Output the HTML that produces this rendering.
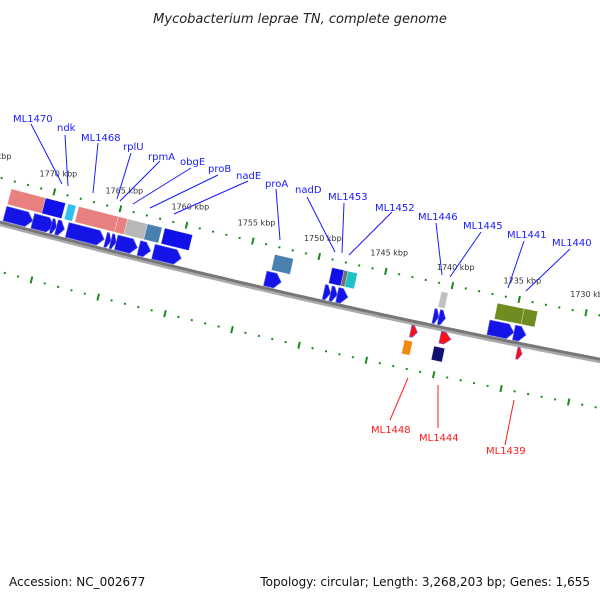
<!DOCTYPE html>
<html><head><meta charset="utf-8"><style>
body{margin:0;background:#fff}
svg{display:block}
text{font-family:"DejaVu Sans","Liberation Sans",sans-serif}
</style></head><body>
<svg id="map" width="600" height="600" viewBox="0 0 600 600">
<text x="300" y="23" text-anchor="middle" font-size="13" font-style="italic" fill="#222">Mycobacterium leprae TN, complete genome</text>
<text x="9" y="586" font-size="12" fill="#111">Accession: NC_002677</text>
<text x="590" y="586" font-size="12" fill="#111" text-anchor="end">Topology: circular; Length: 3,268,203 bp; Genes: 1,655</text>
<g id="layer"></g>
</svg>
<script>
// genomic data (kbp)
const majorTicks = [1775, 1770, 1765, 1760, 1755, 1750, 1745, 1740, 1735, 1730];
const minorStart = 1778, minorEnd = 1726;
const fwdArrowStart = [1773.1, 1771.0, 1769.6, 1769.2, 1768.4, 1765.5, 1765.1, 1764.7, 1763.0, 1761.9, 1753.5, 1749.1, 1748.6, 1748.1, 1740.9, 1740.5, 1736.8, 1734.9];
const fwdArrowEnd   = [1771.0, 1769.4, 1769.2, 1768.6, 1765.6, 1765.1, 1764.7, 1763.1, 1762.1, 1759.8, 1752.3, 1748.6, 1748.1, 1747.3, 1740.5, 1740.0, 1734.9, 1734.0];
const fwdBlockStart = [1773.1, 1770.5, 1768.8, 1768.0, 1765.0, 1764.3, 1762.8, 1761.5, 1753.2, 1748.9, 1748.0, 1747.7, 1740.7, 1736.5, 1734.5];
const fwdBlockEnd   = [1770.5, 1769.0, 1768.2, 1765.0, 1764.3, 1762.8, 1761.7, 1759.4, 1751.8, 1748.0, 1747.7, 1747.0, 1740.2, 1734.5, 1733.5];
const fwdBlockColor = ["#e88080","#1010e8","#30c0f0","#e88080","#e88080","#b8b8b8","#4a80b0","#1010e8","#4a80b0","#1010e8","#707070","#20c0c8","#c0c0c0","#6e8c20","#6e8c20"];
const revArrowStart = [1742.3, 1740.1, 1734.4];
const revArrowEnd   = [1741.8, 1739.3, 1734.0];
const revBlockStart = [1742.6, 1740.4];
const revBlockEnd   = [1742.0, 1739.6];
const revBlockColor = ["#f08a10", "#101070"];
const labelNames = ["ML1470","ndk","ML1468","rplU","rpmA","obgE","proB","nadE","proA","nadD","ML1453","ML1452","ML1446","ML1445","ML1441","ML1440"];

const CX = 2259, CY = -8283, DEG = 0.0892, PMID = 1750.7, PHIMID = 12.86;
const R_BB = 8800, R_OUT = 8757, R_IN = 8848;
function pt(p, r){
  const a = (PHIMID + (p - PMID) * DEG) * Math.PI / 180;
  return [CX - r * Math.sin(a), CY + r * Math.cos(a)];
}
const NS = "http://www.w3.org/2000/svg";
const layer = document.getElementById("layer");
function mk(tag, attrs){
  const e = document.createElementNS(NS, tag);
  for (const k in attrs) e.setAttribute(k, attrs[k]);
  layer.appendChild(e);
  return e;
}
function poly(list){ return list.map(q => q[0].toFixed(1) + "," + q[1].toFixed(1)).join(" "); }

// backbone
let d = "";
for (let p = minorStart; p >= minorEnd; p -= 0.5){ const q = pt(p, R_BB); d += (d ? "L" : "M") + q[0].toFixed(1) + "," + q[1].toFixed(1); }
let bs = mk("path", {d: d, fill: "none", stroke: "#aaa", "stroke-width": 5, transform: "translate(0,1.5)"});


let bb = mk("path", {d: d, fill: "none", stroke: "#777", "stroke-width": 3});



// ticks
[R_OUT, R_IN].forEach((R, ri) => {
  for (let p = minorStart; p >= minorEnd; p--) {
    const major = majorTicks.includes(p);
    const half = major ? 3.5 : 1;
    const a = pt(p, R - half), b = pt(p, R + half);
    const t = mk("line", {x1: a[0], y1: a[1], x2: b[0], y2: b[1], stroke: "#1a8a1a", "stroke-width": 2});
    
    
  }
});
majorTicks.forEach(p => {
  const q = pt(p, R_OUT - 16);
  const t = mk("text", {x: q[0], y: q[1], "font-size": 8, fill: "#333", "text-anchor": "middle"});
  t.textContent = p + " kbp";
  
  
});

function arrow(s, e, r0, r1, color, name){
  const dir = e < s ? -1 : 1;
  const head = Math.min(0.45, Math.abs(e - s) * 0.6);
  const he = e - dir * head, rm = (r0 + r1) / 2;
  const pts = [pt(s, r0), pt(he, r0), pt(e, rm), pt(he, r1), pt(s, r1)];
  const g = mk("polygon", {points: poly(pts), fill: color, stroke: "#6a6af8", "stroke-width": 0.6});
  
  
}
function block(s, e, r0, r1, color, name){
  const pts = [pt(s, r0), pt(e, r0), pt(e, r1), pt(s, r1)];
  const g = mk("polygon", {points: poly(pts), fill: color, stroke: "rgba(255,255,255,0.5)", "stroke-width": 0.6});
  
  
}
fwdArrowStart.forEach((s, i) => arrow(s, fwdArrowEnd[i], 8783, 8798, "#1414e6", "forward-gene-arrow"));
fwdBlockStart.forEach((s, i) => block(s, fwdBlockEnd[i], 8765, 8781, fwdBlockColor[i], "forward-cog-block"));
revArrowStart.forEach((s, i) => arrow(s, revArrowEnd[i], 8804, 8816, "#ff1010", "reverse-gene-arrow"));
revBlockStart.forEach((s, i) => block(s, revBlockEnd[i], 8820, 8834, revBlockColor[i], "reverse-cog-block"));

// labels: [text x, baseline y, line start, line end]
const labelPos = [[13,122,31,124,62,184],[57,131,65,135,68,186],[81,141,98,143,93,193],[123,150,131,153,117,199],[148,160,160,161,120,201],[180,165,191,168,133,204],[208,172,218,175,150,208],[236,179,248,181,174,214],[265,187,276,189,280,240],[295,193,307,197,335,252],[328,200,344,203,342,253],[375,211,392,212,349,255],[418,220,436,223,442,275],[463,229,481,232,450,277],[507,238,524,241,508,288],[552,246,570,249,526,291]];
labelNames.forEach((n, i) => {
  const L = labelPos[i];
  const ln = mk("line", {x1: L[2], y1: L[3], x2: L[4], y2: L[5], stroke: "#1a1aff", "stroke-width": 1});
  
  
  const t = mk("text", {x: L[0], y: L[1], "font-size": 10, fill: "#1a1aff"});
  t.textContent = n;
  
  
});
const redNames = ["ML1448", "ML1444", "ML1439"];
const redPos = [[371,433,408,378,390,420],[419,441,438,385,438,428],[486,454,514,400,505,445]];
redNames.forEach((n, i) => {
  const L = redPos[i];
  const ln = mk("line", {x1: L[2], y1: L[3], x2: L[4], y2: L[5], stroke: "#ff1a1a", "stroke-width": 1});
  
  
  const t = mk("text", {x: L[0], y: L[1], "font-size": 10, fill: "#ff1a1a"});
  t.textContent = n;
  
  
});
</script>
</body></html>
